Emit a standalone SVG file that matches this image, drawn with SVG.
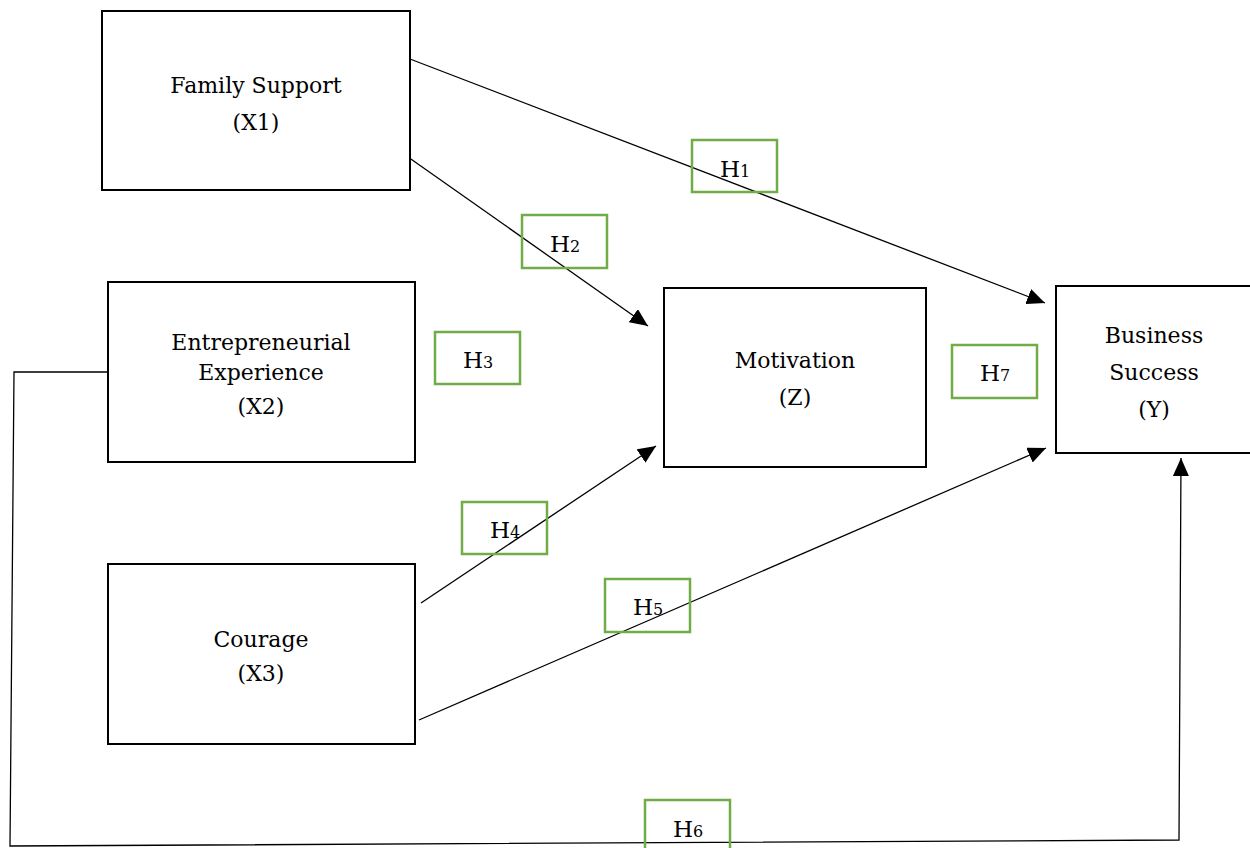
<svg xmlns="http://www.w3.org/2000/svg" width="1250" height="848" viewBox="0 0 1250 848">
<style>
.node{fill:#fff;stroke:#000;stroke-width:2}
.t{font-family:"DejaVu Serif","Liberation Serif",serif;font-size:22px;fill:#000;text-anchor:middle}
.hb{fill:none;stroke:#70AD47;stroke-width:2.5}
.ht{font-family:"DejaVu Serif","Liberation Serif",serif;font-size:23px;fill:#000;text-anchor:middle}
.sub{font-size:16px}
.c{fill:none;stroke:#000;stroke-width:1.3}
</style>
<defs>
<marker id="arr" viewBox="0 0 10 10" refX="10" refY="5" markerWidth="18" markerHeight="16" markerUnits="userSpaceOnUse" orient="auto" preserveAspectRatio="none">
<path d="M0,0 L10,5 L0,10 z" fill="#000"/>
</marker>
</defs>
<g id="connectors">
<line class="c" x1="410" y1="59" x2="1045" y2="303" marker-end="url(#arr)"/>
<line class="c" x1="408" y1="157" x2="648" y2="326" marker-end="url(#arr)"/>
<line class="c" x1="421" y1="603" x2="656" y2="446" marker-end="url(#arr)"/>
<line class="c" x1="419" y1="720" x2="1046" y2="448" marker-end="url(#arr)"/>
<polyline class="c" points="108,372 14,372 10,846 1179,840 1181,458" marker-end="url(#arr)"/>
</g>
<g id="node-x1">
<rect class="node" x="102" y="11" width="308" height="179"/>
<text class="t" x="256" y="93">Family Support</text>
<text class="t" x="256" y="130">(X1)</text>
</g>
<g id="node-x2">
<rect class="node" x="108" y="282" width="307" height="180"/>
<text class="t" x="261" y="350">Entrepreneurial</text>
<text class="t" x="261" y="380">Experience</text>
<text class="t" x="261" y="414">(X2)</text>
</g>
<g id="node-x3">
<rect class="node" x="108" y="564" width="307" height="180"/>
<text class="t" x="261" y="647">Courage</text>
<text class="t" x="261" y="681">(X3)</text>
</g>
<g id="node-z">
<rect class="node" x="664" y="288" width="262" height="179"/>
<text class="t" x="795" y="368">Motivation</text>
<text class="t" x="795" y="405">(Z)</text>
</g>
<g id="node-y">
<rect class="node" x="1056" y="286" width="196" height="167"/>
<text class="t" x="1154" y="343">Business</text>
<text class="t" x="1154" y="380">Success</text>
<text class="t" x="1154" y="417">(Y)</text>
</g>
<g id="h1"><rect class="hb" x="692" y="140" width="85" height="52"/><text class="ht" x="735" y="177">H<tspan class="sub">1</tspan></text></g>
<g id="h2"><rect class="hb" x="522" y="215" width="85" height="53"/><text class="ht" x="565" y="252">H<tspan class="sub">2</tspan></text></g>
<g id="h3"><rect class="hb" x="435" y="332" width="85" height="52"/><text class="ht" x="478" y="368">H<tspan class="sub">3</tspan></text></g>
<g id="h4"><rect class="hb" x="462" y="502" width="85" height="52"/><text class="ht" x="505" y="538">H<tspan class="sub">4</tspan></text></g>
<g id="h5"><rect class="hb" x="605" y="579" width="85" height="53"/><text class="ht" x="648" y="615">H<tspan class="sub">5</tspan></text></g>
<g id="h6"><rect class="hb" x="645" y="800" width="85" height="60"/><text class="ht" x="688" y="837">H<tspan class="sub">6</tspan></text></g>
<g id="h7"><rect class="hb" x="952" y="345" width="85" height="53"/><text class="ht" x="995" y="381">H<tspan class="sub">7</tspan></text></g>
</svg>
